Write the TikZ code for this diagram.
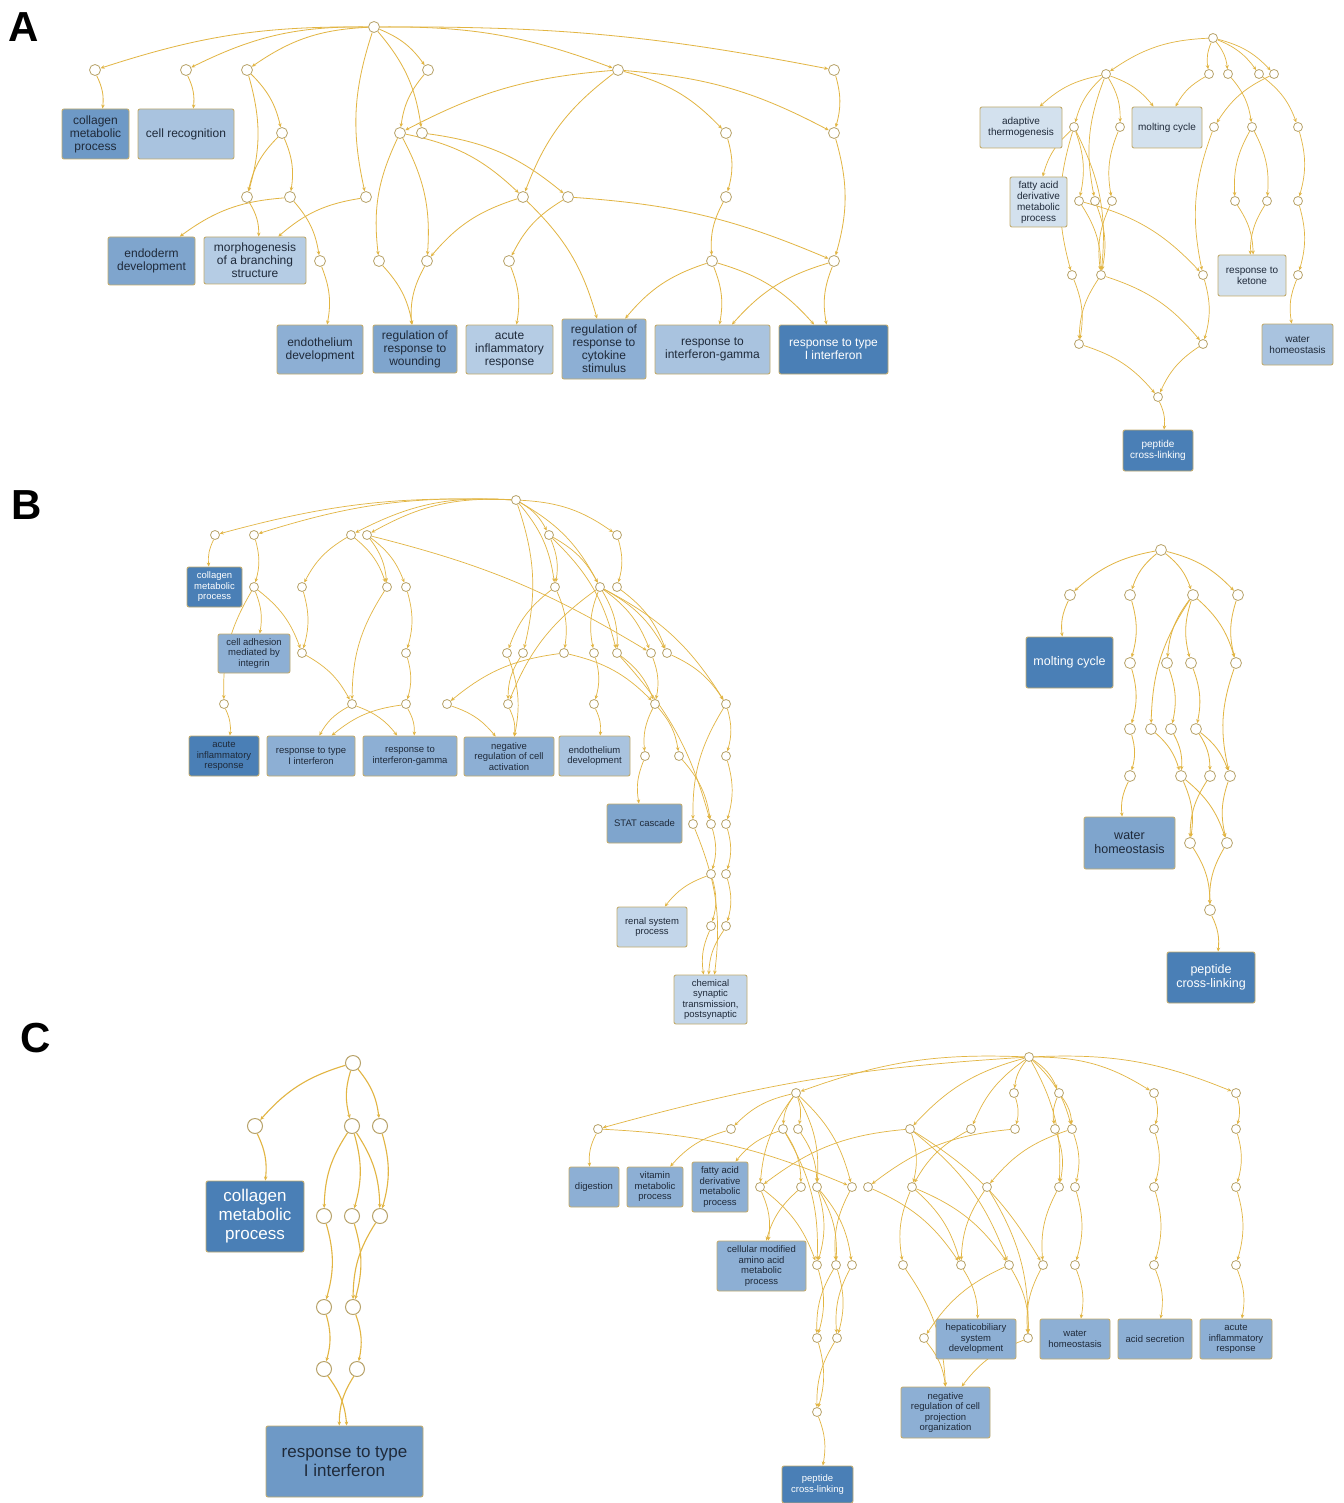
\documentclass[tikz,border=0pt]{standalone}
\usepackage{fontspec}
\setmainfont{Liberation Sans}
\usetikzlibrary{arrows.meta,backgrounds}
\pgfdeclarelayer{bottom}
\pgfsetlayers{bottom,background,main}
\definecolor{edgec}{HTML}{E2B542}
\definecolor{circc}{HTML}{B8A36A}
\definecolor{boxb}{HTML}{C2AC6E}
\definecolor{txt}{HTML}{1F2A3A}
\definecolor{dk}{HTML}{4A7FB6}
\definecolor{mdk}{HTML}{6E99C6}
\definecolor{mdA}{HTML}{7FA5CD}
\definecolor{md}{HTML}{8DAFD4}
\definecolor{lt}{HTML}{A9C3DF}
\definecolor{lt2}{HTML}{B5CCE4}
\definecolor{vl}{HTML}{D3E1EE}
\definecolor{rl}{HTML}{C3D6EA}
\makeatletter
\newdimen\myxa \newdimen\myxb \newdimen\myya \newdimen\myyb
\newcommand\E[3][16]{%
 \pgfpointanchor{#2}{center}\myxa=\pgf@x \myya=\pgf@y
 \pgfpointanchor{#3}{center}\myxb=\pgf@x \myyb=\pgf@y
 \pgfmathsetmacro\myang{min(#1,2600/max(1,veclen(\the\myxb-\the\myxa,\the\myyb-\the\myya)))}%
 \ifdim\myxb<\myxa\relax
 \draw[ed] (#2) to[bend right=\myang] (#3);%
 \else
 \draw[ed] (#2) to[bend left=\myang] (#3);%
 \fi}
\makeatother
\newcommand\bx[8]{\node[box,fill=#6,text=#7,minimum width={#4-#2},minimum height={#5-#3}] (#1) at ({(#2+#4)/2},{(#3+#5)/2}) {#8};}
\newcommand\ci[3]{\node[cc] (#1) at (#2,#3) {};}
\tikzset{
 ed/.style={draw=edgec,line width=0.8pt,-{Stealth[length=4pt,width=3.5pt]}},
 cc/.style={circle,draw=circc,fill=white,line width=0.8pt,minimum size=11pt,inner sep=0pt},
 box/.style={rectangle,rounded corners=2pt,draw=boxb,line width=0.9pt,inner sep=0pt,align=center},
 plab/.style={font=\bfseries\fontsize{42}{42}\selectfont,text=black,inner sep=0pt}
}
\begin{document}
\begin{tikzpicture}[x=1pt,y=-1pt]
\useasboundingbox (0,0) rectangle (1343,1503);
\begin{pgfonlayer}{bottom}
\fill[white] (0,0) rectangle (1343,1503);
\end{pgfonlayer}
\node[plab] (labA) at (24,27) {A};
\node[plab] (labB) at (27,505) {B};
\node[plab] (labC) at (36,1038) {C};

% ---------------- Panel A left
\begin{scope}[box/.append style={font=\fontsize{12}{13}\selectfont}]
\ci{ar}{374}{27}
\ci{a1}{95}{70}\ci{a2}{186}{70}\ci{a3}{247}{70}\ci{a4}{428}{70}\ci{a14}{618}{70}\ci{a15}{834}{70}
\ci{a5}{282}{133}\ci{a6}{400}{133}\ci{a7}{422}{133}\ci{a16}{726}{133}\ci{a17}{834}{133}
\ci{a8}{247}{197}\ci{a9}{290}{197}\ci{a10}{366}{197}\ci{a18}{523}{197}\ci{a19}{568}{197}\ci{a20}{726}{197}
\ci{a11}{320}{261}\ci{a12}{379}{261}\ci{a13}{427}{261}\ci{a21}{509}{261}\ci{a22}{712}{261}\ci{a23}{834}{261}
\bx{collA}{62}{109}{129}{159}{mdk}{txt}{collagen\\metabolic\\process}
\bx{cellrec}{138}{109}{234}{159}{lt}{txt}{cell recognition}
\bx{endoderm}{108}{237}{195}{285}{mdA}{txt}{endoderm\\development}
\bx{morph}{204}{237}{306}{284}{lt2}{txt}{morphogenesis\\of a branching\\structure}
\bx{endoth}{277}{325}{363}{374}{md}{txt}{endothelium\\development}
\bx{wound}{373}{325}{457}{373}{mdA}{txt}{regulation of\\response to\\wounding}
\bx{acuteA}{466}{325}{553}{374}{lt2}{txt}{acute\\inflammatory\\response}
\bx{cyto}{562}{319}{646}{379}{md}{txt}{regulation of\\response to\\cytokine\\stimulus}
\bx{ifngA}{655}{325}{770}{374}{lt}{txt}{response to\\interferon-gamma}
\bx{t1A}{779}{325}{888}{374}{dk}{white}{response to type\\I interferon}
\end{scope}

% ---------------- Panel A right
\begin{scope}[cc/.append style={minimum size=9pt},box/.append style={font=\fontsize{10}{11}\selectfont}]
\ci{br}{1213}{38}
\ci{b1}{1106}{74}\ci{b2}{1209}{74}\ci{b3}{1228}{74}\ci{b4}{1259}{74}\ci{b5}{1274}{74}
\ci{b6}{1074}{127}\ci{b7}{1120}{127}\ci{b8}{1214}{127}\ci{b9}{1252}{127}\ci{b10}{1298}{127}
\ci{b11}{1079}{201}\ci{b12}{1095}{201}\ci{b13}{1112}{201}\ci{b14}{1235}{201}\ci{b15}{1267}{201}\ci{b16}{1298}{201}
\ci{b17}{1072}{275}\ci{b18}{1101}{275}\ci{b19}{1203}{275}\ci{b20}{1298}{275}
\ci{b21}{1079}{344}\ci{b22}{1203}{344}
\ci{b23}{1158}{397}
\bx{adapt}{980}{107}{1062}{148}{vl}{txt}{adaptive\\thermogenesis}
\bx{molt}{1132}{107}{1202}{148}{vl}{txt}{molting cycle}
\bx{fatty}{1010}{177}{1067}{227}{vl}{txt}{fatty acid\\derivative\\metabolic\\process}
\bx{ketone}{1218}{255}{1286}{296}{vl}{txt}{response to\\ketone}
\bx{waterA}{1262}{324}{1333}{365}{lt}{txt}{water\\homeostasis}
\bx{pepA}{1123}{430}{1193}{471}{dk}{white}{peptide\\cross-linking}
\end{scope}

% ---------------- Panel B left
\begin{scope}[cc/.append style={minimum size=9pt},box/.append style={font=\fontsize{9.5}{10.5}\selectfont}]
\ci{brt}{516}{500}
\ci{c1}{215}{535}\ci{c2}{254}{535}\ci{c3}{351}{535}\ci{c4}{367}{535}\ci{c15}{549}{535}\ci{c16}{617}{535}
\ci{c5}{254}{587}\ci{c6}{302}{587}\ci{c7}{387}{587}\ci{c8}{406}{587}\ci{c17}{555}{587}\ci{c18}{600}{587}\ci{c19}{617}{587}
\ci{c9}{302}{653}\ci{c10}{406}{653}\ci{c20}{507}{653}\ci{c21}{523}{653}\ci{c22}{564}{653}\ci{c23}{594}{653}\ci{c24}{617}{653}\ci{c25}{651}{653}\ci{c26}{667}{653}
\ci{c11}{224}{704}\ci{c12}{352}{704}\ci{c13}{406}{704}\ci{c14}{447}{704}\ci{c27}{508}{704}\ci{c28}{594}{704}\ci{c29}{655}{704}\ci{c30}{726}{704}
\ci{c31}{645}{756}\ci{c32}{679}{756}\ci{c33}{726}{756}
\ci{c34}{693}{824}\ci{c35}{711}{824}\ci{c36}{726}{824}
\ci{c37}{711}{874}\ci{c38}{726}{874}
\ci{c39}{711}{926}\ci{c40}{726}{926}
\bx{collB}{187}{567}{242}{607}{dk}{white}{collagen\\metabolic\\process}
\bx{adh}{218}{634}{290}{673}{md}{txt}{cell adhesion\\mediated by\\integrin}
\bx{acuteB}{189}{736}{259}{776}{dk}{txt}{acute\\inflammatory\\response}
\bx{t1B}{267}{736}{355}{776}{md}{txt}{response to type\\I interferon}
\bx{ifngB}{363}{736}{457}{776}{md}{txt}{response to\\interferon-gamma}
\bx{negB}{464}{737}{554}{776}{md}{txt}{negative\\regulation of cell\\activation}
\bx{endB}{559}{736}{630}{776}{lt}{txt}{endothelium\\development}
\bx{stat}{607}{804}{682}{843}{mdA}{txt}{STAT cascade}
\bx{renal}{617}{907}{687}{947}{rl}{txt}{renal system\\process}
\bx{chem}{674}{975}{747}{1024}{rl}{txt}{chemical\\synaptic\\transmission,\\postsynaptic}
\end{scope}

% ---------------- Panel B right
\begin{scope}[box/.append style={font=\fontsize{12.5}{14}\selectfont}]
\ci{dr}{1161}{550}
\ci{d1}{1070}{595}\ci{d2}{1130}{595}\ci{d3}{1193}{595}\ci{d4}{1238}{595}
\ci{d5}{1130}{663}\ci{d6}{1167}{663}\ci{d7}{1191}{663}\ci{d8}{1236}{663}
\ci{d9}{1130}{729}\ci{d10}{1151}{729}\ci{d11}{1171}{729}\ci{d12}{1196}{729}
\ci{d13}{1130}{776}\ci{d14}{1181}{776}\ci{d15}{1210}{776}\ci{d16}{1230}{776}
\ci{d17}{1190}{843}\ci{d18}{1227}{843}
\ci{d19}{1210}{910}
\bx{moltB}{1026}{637}{1113}{688}{dk}{white}{molting cycle}
\bx{waterB}{1084}{817}{1175}{869}{mdA}{txt}{water\\homeostasis}
\bx{pepB}{1167}{952}{1255}{1003}{dk}{white}{peptide\\cross-linking}
\end{scope}

% ---------------- Panel C left
\begin{scope}[cc/.append style={minimum size=15pt,line width=1pt},box/.append style={font=\fontsize{17}{19}\selectfont}]
\ci{er}{353}{1063}
\ci{e1}{255}{1126}\ci{e2}{352}{1126}\ci{e3}{380}{1126}
\ci{e4}{324}{1216}\ci{e5}{352}{1216}\ci{e6}{380}{1216}
\ci{e7}{324}{1307}\ci{e8}{353}{1307}
\ci{e9}{324}{1369}\ci{e10}{357}{1369}
\bx{collC}{206}{1181}{304}{1252}{dk}{white}{collagen\\metabolic\\process}
\bx{t1C}{266}{1426}{423}{1497}{mdk}{txt}{response to type\\I interferon}
\end{scope}

% ---------------- Panel C right
\begin{scope}[cc/.append style={minimum size=9pt},box/.append style={font=\fontsize{9.5}{10.5}\selectfont}]
\ci{fr}{1029}{1057}
\ci{g1}{796}{1093}\ci{h1}{1014}{1093}\ci{h2}{1059}{1093}\ci{h3}{1154}{1093}\ci{h4}{1236}{1093}
\ci{g2}{598}{1129}\ci{g3}{731}{1129}\ci{g4}{783}{1129}\ci{g5}{798}{1129}\ci{g6}{910}{1129}\ci{h5}{971}{1129}\ci{h6}{1015}{1129}\ci{h7}{1055}{1129}\ci{h8}{1072}{1129}\ci{h9}{1154}{1129}\ci{h10}{1236}{1129}
\ci{g7}{760}{1187}\ci{g8}{801}{1187}\ci{g9}{817}{1187}\ci{g10}{852}{1187}\ci{g11}{868}{1187}\ci{g12}{912}{1187}\ci{h11}{987}{1187}\ci{h12}{1059}{1187}\ci{h13}{1075}{1187}\ci{h14}{1154}{1187}\ci{h15}{1236}{1187}
\ci{g13}{817}{1265}\ci{g14}{836}{1265}\ci{g15}{852}{1265}\ci{g16}{903}{1265}\ci{h16}{961}{1265}\ci{h17}{1009}{1265}\ci{h18}{1043}{1265}\ci{h19}{1075}{1265}\ci{h20}{1154}{1265}\ci{h21}{1236}{1265}
\ci{g17}{817}{1338}\ci{g18}{837}{1338}\ci{h22}{924}{1338}\ci{h23}{1028}{1338}
\ci{g19}{817}{1412}
\bx{dig}{569}{1167}{619}{1207}{md}{txt}{digestion}
\bx{vit}{627}{1167}{683}{1207}{md}{txt}{vitamin\\metabolic\\process}
\bx{fatC}{692}{1162}{748}{1212}{md}{txt}{fatty acid\\derivative\\metabolic\\process}
\bx{cellmod}{717}{1241}{806}{1291}{md}{txt}{cellular modified\\amino acid\\metabolic\\process}
\bx{hep}{936}{1319}{1016}{1359}{md}{txt}{hepaticobiliary\\system\\development}
\bx{waterC}{1040}{1319}{1110}{1359}{md}{txt}{water\\homeostasis}
\bx{acid}{1118}{1319}{1192}{1359}{md}{txt}{acid secretion}
\bx{acuteC}{1200}{1319}{1272}{1359}{md}{txt}{acute\\inflammatory\\response}
\bx{negC}{901}{1387}{990}{1438}{md}{txt}{negative\\regulation of cell\\projection\\organization}
\bx{pepC}{782}{1466}{853}{1503}{dk}{white}{peptide\\cross-linking}
\end{scope}

\begin{pgfonlayer}{background}
% A left
\E{ar}{a1}\E{ar}{a2}\E{ar}{a3}\E{ar}{a4}\E{ar}{a10}\E{ar}{a7}\E{ar}{a14}\E{ar}{a15}
\E{a1}{collA}\E{a2}{cellrec}
\E{a3}{a8}\E{a3}{a5}\E{a5}{a8}\E{a5}{a9}
\E{a4}{a6}
\E{a8}{morph}\E{a9}{endoderm}\E{a9}{a11}\E{a10}{morph}\E{a11}{endoth}
\E{a6}{a12}\E{a6}{a13}\E{a6}{a18}\E{a7}{a19}
\E{a12}{wound}\E{a13}{wound}
\E{a14}{a6}\E{a14}{a18}\E{a14}{a16}\E{a14}{a17}\E{a15}{a17}
\E{a16}{a20}\E{a20}{a22}\E{a17}{a23}
\E{a18}{a13}\E{a18}{cyto}
\E{a19}{a21}\E{a19}{a23}
\E{a21}{acuteA}
\E{a22}{cyto}\E{a22}{ifngA}\E{a22}{t1A}
\E{a23}{ifngA}\E{a23}{t1A}
% A right
\begin{scope}[ed/.append style={line width=0.7pt}]
\E{br}{b1}\E{br}{b2}\E{br}{b3}\E{br}{b4}\E{br}{b5}
\E{b1}{adapt}\E{b1}{molt}\E{b1}{b6}\E{b1}{b12}\E{b1}{b7}
\E{b2}{molt}\E{b3}{b9}\E{b5}{b8}\E{b4}{b10}
\E{b6}{fatty}\E{b6}{b11}\E{b6}{b18}\E{b6}{b17}
\E{b7}{b13}\E{b12}{b18}\E{b13}{b18}
\E{b11}{b19}\E{b11}{b18}
\E{b8}{b19}
\E{b9}{b14}\E{b9}{b15}\E{b14}{ketone}\E{b15}{ketone}
\E{b10}{b16}\E{b16}{b20}\E{b20}{waterA}
\E{b17}{b21}\E{b18}{b21}\E{b18}{b22}\E{b19}{b22}
\E{b21}{b23}\E{b22}{b23}\E{b23}{pepA}
% B left
\E{brt}{c1}\E{brt}{c2}\E{brt}{c3}\E{brt}{c4}
\E{c1}{collB}\E{c2}{c5}\E{c5}{adh}\E{c5}{c11}\E{c5}{c9}
\E{c11}{acuteB}
\E{c3}{c6}\E{c6}{c9}\E{c9}{c12}
\E{c3}{c7}\E{c4}{c7}\E{c4}{c8}\E{c4}{c25}
\E{c7}{c12}\E{c8}{c10}\E{c10}{c13}
\E{c12}{t1B}\E{c12}{ifngB}\E{c13}{t1B}\E{c13}{ifngB}
\E{c14}{negB}
\E{brt}{c15}\E{brt}{c16}\E{brt}{c17}\E{brt}{c18}\E{brt}{c21}
\E{c15}{c17}\E{c15}{c24}\E{c15}{c18}
\E{c16}{c19}
\E{c17}{c20}\E{c17}{c22}
\E{c18}{c27}\E{c18}{c23}\E{c18}{c24}\E{c18}{c25}\E{c18}{c26}\E{c18}{c30}
\E{c19}{c26}
\E{c20}{negB}\E{c21}{c27}\E{c27}{negB}
\E{c22}{c14}\E{c22}{c29}
\E{c23}{c28}\E{c28}{endB}
\E{c24}{c29}\E{c25}{c29}\E{c26}{c30}\E{c24}{c35}
\E{c29}{c31}\E{c29}{c32}\E{c31}{stat}\E{c32}{c35}
\E{c30}{c33}\E{c30}{c34}\E{c33}{c36}\E{c36}{c38}\E{c38}{c40}\E{c40}{chem}
\E{c34}{chem}\E{c35}{c37}\E{c37}{renal}\E{c37}{c39}\E{c39}{chem}
\end{scope}
% B right
\E{dr}{d1}\E{dr}{d2}\E{dr}{d3}\E{dr}{d4}
\E{d1}{moltB}\E{d2}{d5}\E{d5}{d9}\E{d9}{d13}\E{d13}{waterB}
\E{d3}{d10}\E{d3}{d6}\E{d3}{d7}\E{d3}{d8}\E{d4}{d8}
\E{d6}{d11}\E{d7}{d12}
\E{d10}{d14}\E{d11}{d14}\E{d12}{d15}\E{d12}{d16}\E{d8}{d16}
\E{d14}{d17}\E{d14}{d18}\E{d15}{d17}\E{d16}{d18}
\E{d17}{d19}\E{d18}{d19}\E{d19}{pepB}
% C left
\begin{scope}[ed/.append style={line width=1.1pt}]
\E{er}{e1}\E{er}{e2}\E{er}{e3}\E{e1}{collC}
\E{e2}{e4}\E{e2}{e5}\E{e2}{e6}\E{e3}{e6}
\E{e4}{e7}\E{e5}{e8}\E{e6}{e8}\E{e7}{e9}\E{e8}{e10}
\E{e9}{t1C}\E{e10}{t1C}
\end{scope}
% C right
\begin{scope}[ed/.append style={line width=0.7pt}]
\E{fr}{g1}\E{fr}{g2}\E{fr}{g6}\E{fr}{h5}\E{fr}{h1}\E{fr}{h12}\E{fr}{h2}\E{fr}{h8}\E{fr}{h3}\E{fr}{h4}
\E{h1}{h6}\E{h2}{h7}\E{h2}{h8}
\E{h6}{g11}\E{h8}{h11}\E{h8}{h13}\E{h7}{h12}
\E{g6}{g7}\E{g6}{g12}\E{g6}{h18}\E{g6}{h17}
\E{h5}{g12}
\E{g12}{g16}\E{g12}{h16}\E{g12}{h17}
\E{h11}{h16}\E{h11}{h23}
\E{h12}{h18}\E{h13}{h19}\E{h19}{waterC}
\E{h16}{hep}\E{h17}{h22}\E{h17}{h23}
\E{g16}{negC}\E{h22}{negC}\E{h23}{negC}\E{h18}{h23}
\E{h3}{h9}\E{h9}{h14}\E{h14}{h20}\E{h20}{acid}
\E{h4}{h10}\E{h10}{h15}\E{h15}{h21}\E{h21}{acuteC}
\E{g1}{g3}\E{g3}{vit}\E{g1}{g4}\E{g1}{g5}\E{g1}{g7}\E{g1}{g9}\E{g1}{g10}
\E{g2}{dig}\E{g2}{g10}
\E{g4}{fatC}\E{g4}{g8}\E{g4}{g13}
\E{g5}{g9}
\E{g7}{cellmod}\E{g7}{g13}
\E{g8}{cellmod}
\E{g9}{g13}\E{g9}{g14}\E{g9}{g15}\E{g10}{g14}
\E{g11}{h16}
\E{g13}{g17}\E{g17}{g19}\E{g19}{pepC}\E{g14}{g18}\E{g18}{g19}\E{g15}{g18}\E{g14}{g17}
\end{scope}
\end{pgfonlayer}
\end{tikzpicture}
\end{document}
